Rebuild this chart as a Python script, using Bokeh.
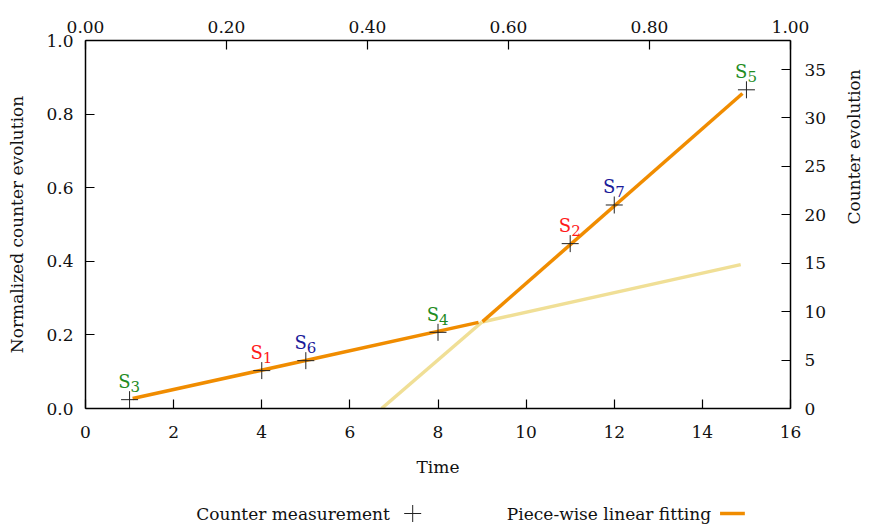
import math
from bokeh.plotting import figure
from bokeh.models import Range1d, LinearAxis, FixedTicker, PrintfTickFormatter, ColumnDataSource
from bokeh.layouts import column
from bokeh.core.properties import value
from bokeh.embed import file_html
from bokeh.resources import INLINE

# ---- data ----
meas_time = [1, 4, 5, 8, 11, 12, 15]
meas_norm = [0.024, 0.103, 0.130, 0.207, 0.448, 0.553, 0.866]
meas_name = ["S", "S", "S", "S", "S", "S", "S"]
meas_sub = ["3", "1", "6", "4", "2", "7", "5"]
meas_color = ["#1f8c1f", "#ff1a1a", "#1a1a99", "#1f8c1f", "#ff1a1a", "#1a1a99", "#1f8c1f"]

fit1_time = [1.07, 8.92]
fit1_norm = [0.027, 0.234]
fit2_time = [9.01, 14.91]
fit2_norm = [0.236, 0.856]
ext1_time = [9.0, 14.87]
ext1_norm = [0.235, 0.391]
ext2_time = [6.72, 9.0]
ext2_norm = [0.0, 0.235]

x_ticks = [0, 2, 4, 6, 8, 10, 12, 14, 16]
y_ticks = [0.0, 0.2, 0.4, 0.6, 0.8, 1.0]
top_ticks = [0.0, 0.2, 0.4, 0.6, 0.8, 1.0]
right_ticks = [0, 5, 10, 15, 20, 25, 30, 35]
right_max = 38

legend_labels = ["Counter measurement", "Piece-wise linear fitting"]

FONT = "DejaVu Serif"
FS = "17px"
TXT = "#111111"
ORANGE = "#f08c00"
PALE = "#f0df96"

p = figure(width=871, height=480, frame_width=705, frame_height=368,
           x_range=Range1d(0, 16), y_range=Range1d(0, 1),
           min_border_left=85, min_border_right=81, min_border_top=40, min_border_bottom=72,
           output_backend="svg", toolbar_location=None, x_axis_location=None, y_axis_location=None)
p.grid.visible = False
p.outline_line_color = None
p.extra_x_ranges = {"top": Range1d(0, 1)}
p.extra_y_ranges = {"right": Range1d(0, right_max)}


def style(ax, ticks, fmt, standoff, label_standoff):
    ax.ticker = FixedTicker(ticks=ticks)
    ax.formatter = PrintfTickFormatter(format=fmt)
    ax.major_tick_in = 9
    ax.major_tick_out = 0
    ax.minor_tick_in = 0
    ax.minor_tick_out = 0
    ax.axis_line_width = 1.5
    ax.axis_line_color = "black"
    ax.major_tick_line_color = "black"
    ax.major_tick_line_width = 1.2
    ax.major_label_text_font = FONT
    ax.major_label_text_font_size = FS
    ax.major_label_text_color = TXT
    ax.major_label_standoff = standoff
    ax.axis_label_text_font = FONT
    ax.axis_label_text_font_size = FS
    ax.axis_label_text_font_style = "normal"
    ax.axis_label_text_color = TXT
    ax.axis_label_standoff = label_standoff


bottom = LinearAxis(axis_label="Time")
style(bottom, x_ticks, "%d", 17, 16)
p.add_layout(bottom, "below")

left = LinearAxis(axis_label="Normalized counter evolution")
style(left, y_ticks, "%.1f", 12, 16)
p.add_layout(left, "left")

top = LinearAxis(x_range_name="top")
style(top, top_ticks, "%.2f", 8, 0)
p.add_layout(top, "above")

right = LinearAxis(y_range_name="right", axis_label="Counter evolution")
style(right, right_ticks, "%d", 14, 25)
right.axis_label_orientation = math.pi / 2
p.add_layout(right, "right")

# fits
p.line(ext2_time, ext2_norm, line_color=PALE, line_width=3.5)
p.line(ext1_time, ext1_norm, line_color=PALE, line_width=3.5)
p.line(fit1_time, fit1_norm, line_color=ORANGE, line_width=3.5)
p.line(fit2_time, fit2_norm, line_color=ORANGE, line_width=3.5)

src = ColumnDataSource(dict(x=meas_time, y=meas_norm, name=meas_name, sub=meas_sub, color=meas_color))
p.scatter("x", "y", source=src, marker="cross", size=17, line_color="#222222", line_width=1)
p.text("x", "y", text="name", source=src, text_color="color", text_font=value(FONT),
       text_font_size="18px", text_align="right", text_baseline="alphabetic", y_offset=-18, x_offset=1)
p.text("x", "y", text="sub", source=src, text_color="color", text_font=value(FONT),
       text_font_size="15px", text_align="left", text_baseline="alphabetic", y_offset=-13, x_offset=1)

# legend strip below the chart (gnuplot style: label text followed by its key);
# its frame is aligned with the chart frame, so its x range is the frame's pixel span
leg = figure(width=871, height=48, x_range=Range1d(85, 790), y_range=Range1d(0, 48),
             min_border=0, output_backend="svg", toolbar_location=None,
             x_axis_location=None, y_axis_location=None)
leg.grid.visible = False
leg.outline_line_color = None
leg.text([392, 716], [15, 15], text=legend_labels, text_font=value(FONT), text_font_size=FS,
         text_color=TXT, text_align="right", text_baseline="middle")
leg.scatter([415], [15], marker="cross", size=17, line_color="#222222", line_width=1)
leg.line([725, 750], [15, 15], line_color=ORANGE, line_width=3.5)

layout = column(p, leg, spacing=0)
open("out.html", "w").write(file_html(layout, INLINE))
